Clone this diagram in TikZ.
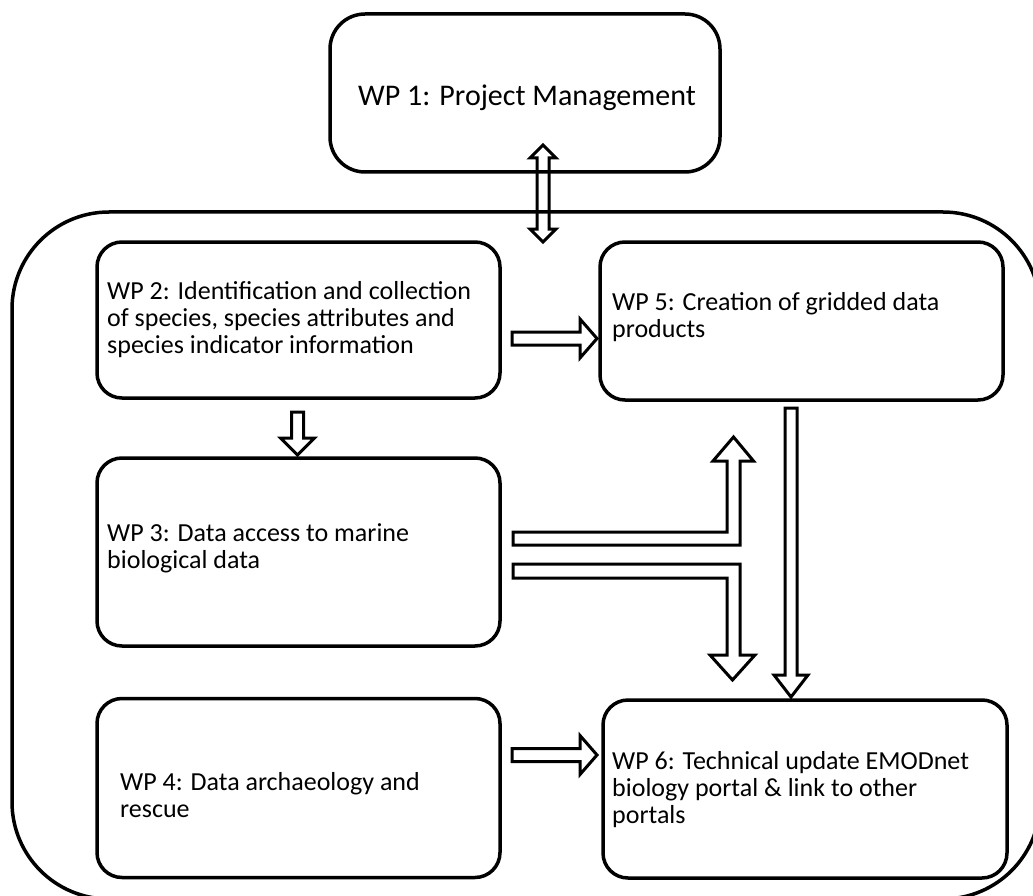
\documentclass[tikz,border=0pt]{standalone}
\usepackage{fontspec}
\setmainfont{Carlito}
\begin{document}
\begin{tikzpicture}[x=1pt,y=-1pt,
  box/.style={draw=black, line width=3.5pt, rounded corners=25pt, inner sep=0pt},
  outerframe/.style={draw=black, line width=3.5pt, rounded corners=97pt, inner sep=0pt},
  barrow/.style={draw=black, line width=3pt, line join=miter},
  lbl/.style={font=\fontsize{26}{27}\selectfont, align=left, anchor=west, inner sep=0pt},
  biglbl/.style={font=\fontsize{30}{32}\selectfont, anchor=west, inner sep=0pt}]
\useasboundingbox (0,0) rectangle (1033,896);
\fill[white] (0,0) rectangle (1033,896);
\clip (0,0) rectangle (1033,896);

% frame and boxes
\node[outerframe, minimum width=1028pt, minimum height=687pt] (frame) at (526,555.5) {};
\node[box, rounded corners=35pt, minimum width=390pt, minimum height=158pt] (wp1) at (525,93) {};
\node[box, minimum width=403pt, minimum height=156pt] (wp2) at (298.5,320) {};
\node[box, minimum width=403pt, minimum height=158pt] (wp5) at (801.5,321) {};
\node[box, minimum width=403pt, minimum height=188pt] (wp3) at (298.5,552) {};
\node[box, minimum width=403pt, minimum height=179pt] (wp4) at (298.5,788) {};
\node[box, minimum width=404pt, minimum height=178pt] (wp6) at (805,789) {};

% texts
\node[biglbl] (t1) at (358,98) {WP 1: Project Management};
\node[lbl] (t2) at (107,320) {WP 2: Identification and collection\\of species, species attributes and\\species indicator information};
\node[lbl] (t5) at (612,317) {WP 5: Creation of gridded data\\products};
\node[lbl] (t3) at (107,548) {WP 3: Data access to marine\\biological data};
\node[lbl] (t4) at (120,795) {WP 4: Data archaeology and\\rescue};
\node[lbl] (t6) at (612,790) {WP 6: Technical update EMODnet\\biology portal \& link to other\\portals};

% arrow end points
\coordinate (a1top) at (543,145);
\coordinate (a25tip) at (597,338.5);
\coordinate (a23tip) at (297.5,455);
\coordinate (a35tip) at (733.5,437);
\coordinate (a36tip) at (732.5,680);
\coordinate (a56tip) at (791,697);
\coordinate (a46tip) at (597,755);

% WP1 <-> frame
\draw[barrow] (a1top) -- ++(13,13) -- ++(-7,0) -- ++(0,71) -- ++(7,0) -- ++(-13,13)
  -- ++(-13,-13) -- ++(7,0) -- ++(0,-71) -- ++(-7,0) -- cycle;
% WP2 -> WP5
\draw[barrow] (a25tip) -- ++(-17,-19.5) -- ++(0,13) -- ++(-68,0) -- ++(0,13) -- ++(68,0) -- ++(0,13) -- cycle;
% WP2 -> WP3
\draw[barrow] (a23tip) -- ++(-17,-17) -- ++(11,0) -- ++(0,-26) -- ++(12,0) -- ++(0,26) -- ++(11,0) -- cycle;
% WP3 -> WP5
\draw[barrow] (a35tip) -- ++(20,24) -- ++(-13.5,0) -- ++(0,84) -- ++(-227,0) -- ++(0,-13)
  -- ++(214,0) -- ++(0,-71) -- ++(-14,0) -- cycle;
% WP3 -> WP6
\draw[barrow] (a36tip) -- ++(22.5,-25) -- ++(-15,0) -- ++(0,-91) -- ++(-227,0) -- ++(0,14)
  -- ++(214,0) -- ++(0,77) -- ++(-17,0) -- cycle;
% WP5 -> WP6
\draw[barrow] (a56tip) -- ++(17,-22) -- ++(-11,0) -- ++(0,-267) -- ++(-12,0) -- ++(0,267) -- ++(-11,0) -- cycle;
% WP4 -> WP6
\draw[barrow] (a46tip) -- ++(-17,-19.5) -- ++(0,13) -- ++(-68,0) -- ++(0,13) -- ++(68,0) -- ++(0,13) -- cycle;
\end{tikzpicture}
\end{document}
